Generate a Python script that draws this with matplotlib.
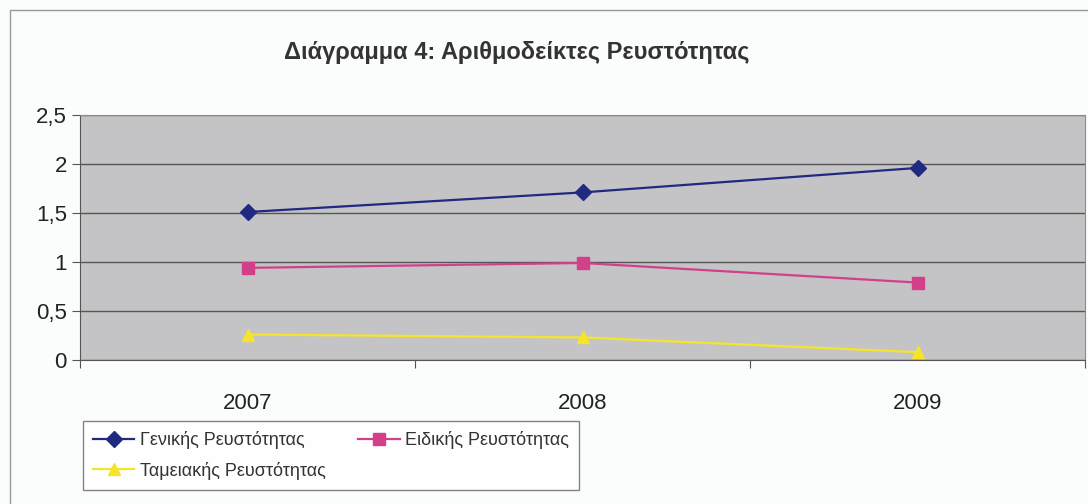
import matplotlib
matplotlib.use("Agg")
import matplotlib.pyplot as plt
from matplotlib.patches import Rectangle

# data
years = ["2007", "2008", "2009"]
geniki = [1.51, 1.71, 1.96]
eidiki = [0.94, 0.99, 0.79]
tameiaki = [0.26, 0.23, 0.08]
y_ticks = [0, 0.5, 1, 1.5, 2, 2.5]
y_labels = ["0", "0,5", "1", "1,5", "2", "2,5"]
names = ["Γενικής Ρευστότητας", "Ειδικής Ρευστότητας", "Ταμειακής Ρευστότητας"]

plt.rcParams['font.family'] = ['Liberation Sans', 'DejaVu Sans']

fig = plt.figure(figsize=(10.88, 5.04), dpi=100)
fig.patch.set_facecolor('#fbfcfc')
ax = fig.add_axes([80/1088, 1-360/504, 1005/1088, 245/504])
ax.set_facecolor('#c4c4c6')

x = list(range(len(years)))
l1, = ax.plot(x, geniki, color='#1f2a80', marker='D', markersize=8, linewidth=1.6, label=names[0])
l2, = ax.plot(x, eidiki, color='#d2408a', marker='s', markersize=8, linewidth=1.6, label=names[1])
l3, = ax.plot(x, tameiaki, color='#f4e42c', marker='^', markersize=9, linewidth=1.6, label=names[2])

ax.set_xlim(-0.5, 2.5)
ax.set_ylim(0, 2.5)
ax.set_yticks(y_ticks)
ax.set_yticklabels(y_labels, fontsize=16, color='#222222')
ax.grid(axis='y', color='#555555', linewidth=1)
ax.set_axisbelow(True)

# ticks between categories, labels centered
ax.set_xticks([-0.5, 0.5, 1.5, 2.5])
ax.set_xticklabels([])
ax.set_xticks(x, minor=True)
ax.set_xticklabels(years, minor=True, fontsize=16, color='#222222')
ax.tick_params(axis='x', which='minor', length=0, pad=24)
ax.tick_params(axis='x', which='major', length=6, color='#555555')
ax.tick_params(axis='y', length=6, color='#555555')

for s in ['left', 'bottom']:
    ax.spines[s].set_color('#555555')
for s in ['top', 'right']:
    ax.spines[s].set_color('#8a8a8a')

fig.text(517/1088, 1-52/504, "Διάγραμμα 4: Αριθμοδείκτες Ρευστότητας", ha='center', va='center',
         fontsize=17, fontweight='bold', color='#333333')

# legend: row 1 Γενικής, Ειδικής; row 2 Ταμειακής
leg = fig.legend([l1, l3, l2], [names[0], names[2], names[1]], loc='upper left',
                 bbox_to_anchor=(83/1088, 1-421/504), borderaxespad=0, ncol=2, fontsize=13,
                 frameon=True, fancybox=False, edgecolor='#666666', borderpad=0.55,
                 handlelength=2.3, columnspacing=1.8, labelspacing=0.7, handletextpad=0.3)
leg.get_frame().set_linewidth(1)
for t in leg.get_texts():
    t.set_color('#333333')

# outer chart border
fig.patches.append(Rectangle((10/1088, -0.1), 1.2, 1-10/504 + 0.1, transform=fig.transFigure,
                             fill=False, edgecolor='#999999', linewidth=1))

fig.savefig("out.png", dpi=100, facecolor=fig.get_facecolor())
